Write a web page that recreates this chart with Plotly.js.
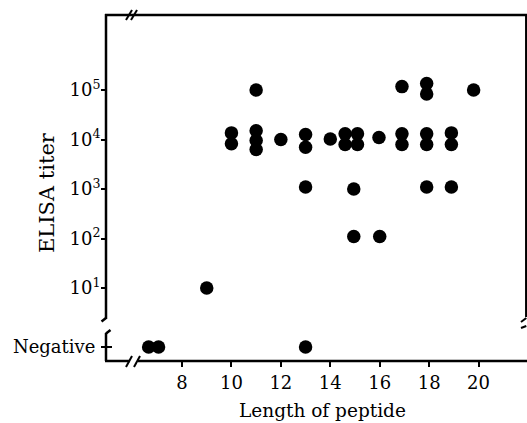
<!DOCTYPE html>
<html>
<head>
<meta charset="utf-8">
<script src="https://cdn.plot.ly/plotly-3.0.1.min.js"></script>
<style>html,body{margin:0;padding:0;background:#fff;}#chart{width:527px;height:423px;}</style>
</head>
<body>
<div id="chart"></div>
<script>
// Positive ELISA titers vs peptide length
const peptideLength = [9, 10, 10, 11, 11, 11, 11, 12, 13, 13, 13, 14, 14.6, 14.6, 15.1, 15.1, 14.95, 14.95, 15.97, 16, 16.9, 16.9, 16.9, 17.9, 17.9, 17.9, 17.9, 17.9, 18.9, 18.9, 18.9, 19.8];
const elisaTiter    = [10, 13600, 8200, 100000, 15000, 9500, 6300, 10000, 12600, 7000, 1100, 10200, 13000, 7900, 13000, 7900, 1000, 110, 11000, 110, 117000, 13000, 7900, 135000, 83000, 13000, 7900, 1100, 13600, 7900, 1100, 100000];
// Peptides with negative ELISA result
const negLength = [6.65, 7.05, 13];
const negLabel  = ["Negative", "Negative", "Negative"];
// Tick labels
const xLabelVals = [8, 10, 12, 14, 16, 18, 20];
const xLabelText = ["8", "10", "12", "14", "16", "18", "20"];
const xMinorVals = [7, 9, 11, 13, 15, 17, 19, 21];
const xAllVals   = [7, 8, 9, 10, 11, 12, 13, 14, 15, 16, 17, 18, 19, 20, 21];
const yTickVals = [10, 100, 1000, 10000, 100000];
const yTickText = ["10<sup>1</sup>", "10<sup>2</sup>", "10<sup>3</sup>", "10<sup>4</sup>", "10<sup>5</sup>"];

const FONT = "DejaVu Serif";
const L = 106, R = 527, T = 15, B = 361;
const W = R - L, H = B - T;
const px = X => (X - L) / W;
const py = Y => (B - Y) / H;
const XR = [4.924, 21.96];
const YR = [0.374, 6.515];
const mainDom = [py(319), 1];
const negDom = [0, py(333)];

const marker = {color: "black", size: 13.5};
const traces = [
  {x: peptideLength, y: elisaTiter, type: "scatter", mode: "markers", marker: marker, xaxis: "x", yaxis: "y", cliponaxis: false, hoverinfo: "skip"},
  {x: negLength, y: negLabel, type: "scatter", mode: "markers", marker: marker, xaxis: "x", yaxis: "y2", cliponaxis: false, hoverinfo: "skip"}
];

const tf = {family: FONT, size: 18, color: "black"};
const noLine = {showgrid: false, zeroline: false, showline: false};
const ln = (x0, y0, x1, y1, w) => ({type: "line", xref: "paper", yref: "paper", x0: px(x0), y0: py(y0), x1: px(x1), y1: py(y1), line: {color: "black", width: w || 2.5}});

const layout = {
  width: 527, height: 423,
  margin: {l: L, r: 0, t: T, b: 423 - B},
  paper_bgcolor: "white", plot_bgcolor: "white",
  showlegend: false,
  font: tf,
  xaxis: Object.assign({range: XR, anchor: "y2", tickmode: "array", tickvals: xLabelVals, ticktext: xLabelText,
    ticks: "outside", ticklen: 5, tickwidth: 2, tickcolor: "black", tickfont: tf}, noLine),
  xaxis4: Object.assign({range: XR, overlaying: "x", anchor: "y2", side: "bottom", tickmode: "array", tickvals: xMinorVals,
    ticks: "outside", ticklen: 5, tickwidth: 2, tickcolor: "black", showticklabels: false}, noLine),
  xaxis2: Object.assign({range: XR, overlaying: "x", anchor: "y2", side: "bottom", tickmode: "array", tickvals: xAllVals,
    ticks: "inside", ticklen: 5, tickwidth: 2, tickcolor: "black", showticklabels: false}, noLine),
  xaxis3: Object.assign({range: XR, overlaying: "x", anchor: "y", side: "top", tickmode: "array", tickvals: xAllVals,
    ticks: "inside", ticklen: 6, tickwidth: 2, tickcolor: "black", showticklabels: false}, noLine),
  yaxis: Object.assign({type: "log", range: YR, domain: mainDom, anchor: "x", tickmode: "array", tickvals: yTickVals, ticktext: yTickText,
    ticks: "outside", ticklen: 4, tickwidth: 2, tickcolor: "black", tickfont: tf, ticklabelstandoff: -3}, noLine),
  yaxis3: Object.assign({type: "log", range: YR, domain: mainDom, overlaying: "y", anchor: "x", side: "left", tickmode: "array", tickvals: yTickVals,
    ticks: "inside", ticklen: 6, tickwidth: 2, tickcolor: "black", showticklabels: false}, noLine),
  yaxis4: Object.assign({type: "log", range: YR, domain: mainDom, overlaying: "y", anchor: "x", side: "right", tickmode: "array", tickvals: yTickVals,
    ticks: "inside", ticklen: 9, tickwidth: 2, tickcolor: "black", showticklabels: false}, noLine),
  yaxis2: Object.assign({type: "category", range: [-0.5, 0.5], domain: negDom, anchor: "x",
    ticks: "outside", ticklen: 4, tickwidth: 2, tickcolor: "black", tickfont: tf, ticklabelstandoff: 2}, noLine),
  shapes: [
    ln(106, 14, 106, 319),
    ln(106, 318, 101.5, 321.5),
    ln(106, 361, 106, 333),
    ln(106, 333.5, 110.5, 330),
    ln(102, 347, 112, 347, 2),
    ln(105, 15, 527, 15),
    ln(126, 20, 132, 10, 2),
    ln(131, 20, 137, 10, 2),
    ln(105, 361, 130, 361),
    ln(138, 361, 527, 361),
    ln(126, 367, 132, 356, 2),
    ln(134, 367, 140, 356, 2),
    ln(526.3, 14, 526.3, 317),
    ln(526.3, 318, 521, 322, 2),
    ln(521, 328, 526.3, 326, 2)
  ],
  annotations: [
    {text: "ELISA titer", xref: "paper", yref: "paper", x: px(47), y: py(193), xanchor: "center", yanchor: "middle", textangle: -90, showarrow: false,
      font: {family: FONT, size: 21, color: "black"}},
    {text: "Length of peptide", xref: "paper", yref: "paper", x: px(322.5), y: py(410), xanchor: "center", yanchor: "middle", showarrow: false,
      font: {family: FONT, size: 18.5, color: "black"}}
  ]
};

Plotly.newPlot("chart", traces, layout, {staticPlot: true, displayModeBar: false});
</script>
</body>
</html>
